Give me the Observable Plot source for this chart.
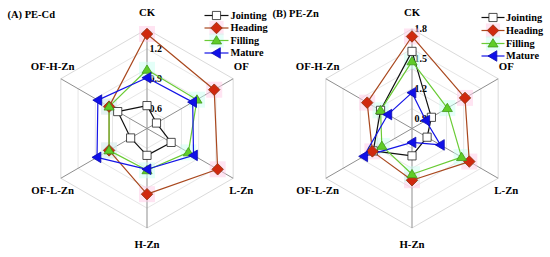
<!DOCTYPE html>
<html><head><meta charset="utf-8">
<script src="https://cdn.jsdelivr.net/npm/d3@7"></script>
<script src="https://cdn.jsdelivr.net/npm/@observablehq/plot@0.6"></script>
<style>
html,body{margin:0;padding:0;background:#fff;}
#chart{width:550px;height:257px;}
</style></head><body><div id="chart"></div>
<script>
// ---------- data ----------
const axesNames = ["CK", "OF", "L-Zn", "H-Zn", "OF-L-Zn", "OF-H-Zn"];
const seriesNames = ["Jointing", "Heading", "Filling", "Mature"];
const panelTitles = ["(A) PE-Cd", "(B) PE-Zn"];

const cdJointing = [0.63, 0.51, 0.68, 0.67, 0.59, 0.74];
const cdHeading  = [1.35, 1.18, 1.22, 1.06, 0.84, 0.84];
const cdFilling  = [0.99, 0.98, 0.88, 0.82, 0.84, 0.84];
const cdMature   = [0.91, 0.93, 0.94, 0.81, 0.98, 0.97];

const znJointing = [1.575, 1.025, 0.975, 1.075, 1.25, 1.165];
const znHeading  = [1.725, 1.415, 1.465, 1.32, 1.26, 1.32];
const znFilling  = [1.475, 1.21, 1.375, 1.26, 1.15, 1.165];
const znMature   = [1.16, 0.96, 1.13, 0.94, 1.36, 1.08];

const cdTicks = [0.6, 0.9, 1.2];
const znTicks = [0.9, 1.2, 1.5, 1.8];
const cdRange = [0.4, 1.4];
const znRange = [0.8, 1.8];
const gridLevels = [0.2, 0.4, 0.6, 0.8, 1.0];

// ---------- layout ----------
const W = 550, H = 257;
const S = 99.5;                 // px per unit radius
const CX0 = 146.5, CY = 128;    // left panel centre (px)
const CX1 = 411.5;              // right panel centre (px)
const px = (x) => (x - CX0) / S;
const py = (y) => (CY - y) / S;
const panels = [
  {title: panelTitles[0], ox: 0, range: cdRange, ticks: cdTicks,
   values: [cdJointing, cdHeading, cdFilling, cdMature],
   titleX: 7, titleY: 14,
   legX: [204, 228], legMark: 216, legText: 230, legY: [15, 27.5, 40, 52.5]},
  {title: panelTitles[1], ox: (CX1 - CX0) / S, range: znRange, ticks: znTicks,
   values: [znJointing, znHeading, znFilling, znMature],
   titleX: 272, titleY: 13,
   legX: [481, 504], legMark: 492.5, legText: 505.5, legY: [17, 30, 43, 55.5]}
];
const angle = (i) => (90 - 60 * i) * Math.PI / 180;

// ---------- symbols ----------
const rOf = (size) => Math.sqrt(size / Math.PI);
const symSquare = {draw(c, s) { const r = rOf(s) * 0.95; c.moveTo(-r, -r); c.lineTo(r, -r); c.lineTo(r, r); c.lineTo(-r, r); c.closePath(); }};
const symDiamond = {draw(c, s) { const r = rOf(s) * 1.25; c.moveTo(0, -r); c.lineTo(r, 0); c.lineTo(0, r); c.lineTo(-r, 0); c.closePath(); }};
const symUp = {draw(c, s) { const r = rOf(s); c.moveTo(0, -r * 1.05); c.lineTo(r * 1.1, r * 0.75); c.lineTo(-r * 1.1, r * 0.75); c.closePath(); }};
const symLeft = {draw(c, s) { const r = rOf(s); c.moveTo(-r * 1.05, 0); c.lineTo(r * 0.8, -r * 1.1); c.lineTo(r * 0.8, r * 1.1); c.closePath(); }};

const styles = {
  Jointing: {line: "#111", fill: "#fff", stroke: "#222", sym: symSquare, r: 4.3, halo: null},
  Heading:  {line: "#a9481e", fill: "#d0280f", stroke: "#8b3510", sym: symDiamond, r: 4.6, halo: "#ffc9e6"},
  Filling:  {line: "#6acb35", fill: "#5fcc28", stroke: "#3d9a18", sym: symUp, r: 4.6, halo: "#c9fff1"},
  Mature:   {line: "#1414e6", fill: "#1010e8", stroke: "#0a0ab0", sym: symLeft, r: 4.8, halo: null}
};

// ---------- build tables ----------
const pts = [];      // markers
const lines = [];    // closed polygons
panels.forEach((p, pi) => {
  p.values.forEach((vals, si) => {
    const name = seriesNames[si];
    const seq = vals.map((v, i) => {
      const r = (v - p.range[0]) / (p.range[1] - p.range[0]);
      return {panel: pi, series: name, axis: axesNames[i], value: v,
              x: p.ox + r * Math.cos(angle(i)), y: r * Math.sin(angle(i))};
    });
    seq.forEach(d => pts.push(d));
    seq.concat([seq[0]]).forEach((d, k) => lines.push({...d, key: pi + name, k}));
  });
});

const grid = [];
panels.forEach((p, pi) => {
  gridLevels.forEach(l => {
    for (let i = 0; i <= 6; i++) grid.push({key: pi + "-" + l, x: p.ox + l * Math.cos(angle(i % 6)), y: l * Math.sin(angle(i % 6)), outer: l === 1});
  });
});
const spokes = [];
panels.forEach((p) => axesNames.forEach((a, i) => spokes.push({x1: p.ox, y1: 0, x2: p.ox + Math.cos(angle(i)), y2: Math.sin(angle(i))})));

const axisLabels = [];
panels.forEach((p) => axesNames.forEach((a, i) => {
  const c = Math.cos(angle(i)), s = Math.sin(angle(i));
  const side = Math.abs(c) > 0.1;
  axisLabels.push({text: a, x: p.ox + c * 1.095, y: side ? s * 1.25 : s * 1.165,
    anchor: !side ? "middle" : (c > 0 ? "start" : "end")});
}));

const tickLabels = [];
panels.forEach((p) => p.ticks.forEach(t => tickLabels.push({text: String(t), x: p.ox, y: (t - p.range[0]) / (p.range[1] - p.range[0])})));

const titles = panels.map(p => ({text: p.title, x: px(p.titleX), y: py(p.titleY)}));

const legLines = [], legMarks = [], legTexts = [];
panels.forEach((p) => seriesNames.forEach((n, si) => {
  legLines.push({series: n, x1: px(p.legX[0]), x2: px(p.legX[1]), y: py(p.legY[si])});
  legMarks.push({series: n, x: px(p.legMark), y: py(p.legY[si])});
  legTexts.push({text: n, x: px(p.legText), y: py(p.legY[si])});
}));

// ---------- marks ----------
const font = {fontFamily: "Liberation Serif, Times New Roman, serif", fontWeight: "bold", fill: "#000"};
const marks = [
  Plot.line(grid.filter(d => !d.outer), {x: "x", y: "y", z: "key", stroke: "#e6e6e6", strokeWidth: 1}),
  Plot.line(grid.filter(d => d.outer), {x: "x", y: "y", z: "key", stroke: "#dadada", strokeWidth: 1}),
  Plot.link(spokes, {x1: "x1", y1: "y1", x2: "x2", y2: "y2", stroke: "#8f8f8f", strokeWidth: 1}),
  Plot.text(tickLabels, {x: "x", y: "y", text: "text", textAnchor: "start", dx: 2.5, fontSize: 10, ...font}),
];
// halos
seriesNames.forEach(n => {
  const st = styles[n];
  if (st.halo) {
    marks.push(Plot.dot(pts.filter(d => d.series === n), {x: "x", y: "y", r: 9, symbol: "square", fill: st.halo, fillOpacity: 0.5, stroke: "none"}));
    marks.push(Plot.dot(legMarks.filter(d => d.series === n), {x: "x", y: "y", r: 8, symbol: "square", fill: st.halo, fillOpacity: 0.5, stroke: "none"}));
  }
});
seriesNames.forEach(n => {
  const st = styles[n];
  marks.push(Plot.line(lines.filter(d => d.series === n), {x: "x", y: "y", z: "key", stroke: st.line, strokeWidth: 1.2}));
  marks.push(Plot.link(legLines.filter(d => d.series === n), {x1: "x1", x2: "x2", y1: "y", y2: "y", stroke: st.line, strokeWidth: 1.2}));
});
seriesNames.forEach(n => {
  const st = styles[n];
  marks.push(Plot.dot(pts.filter(d => d.series === n), {x: "x", y: "y", r: st.r, symbol: st.sym, fill: st.fill, stroke: st.stroke, strokeWidth: 0.8}));
  marks.push(Plot.dot(legMarks.filter(d => d.series === n), {x: "x", y: "y", r: st.r, symbol: st.sym, fill: st.fill, stroke: st.stroke, strokeWidth: 0.8}));
});
marks.push(Plot.text(legTexts, {x: "x", y: "y", text: "text", textAnchor: "start", fontSize: 10.3, ...font}));
marks.push(Plot.text(axisLabels, {x: "x", y: "y", text: "text", textAnchor: d => d.anchor, fontSize: 10.8, ...font}));
marks.push(Plot.text(titles, {x: "x", y: "y", text: "text", textAnchor: "start", fontSize: 10.5, ...font}));

const chart = Plot.plot({
  width: W, height: H,
  marginTop: 0, marginBottom: 0, marginLeft: 0, marginRight: 0,
  x: {domain: [px(0), px(W)], range: [0, W], axis: null},
  y: {domain: [py(H), py(0)], range: [H, 0], axis: null},
  style: {background: "#fff", fontFamily: "Liberation Serif, serif"},
  marks
});
document.getElementById("chart").appendChild(chart);
</script>
</body></html>
